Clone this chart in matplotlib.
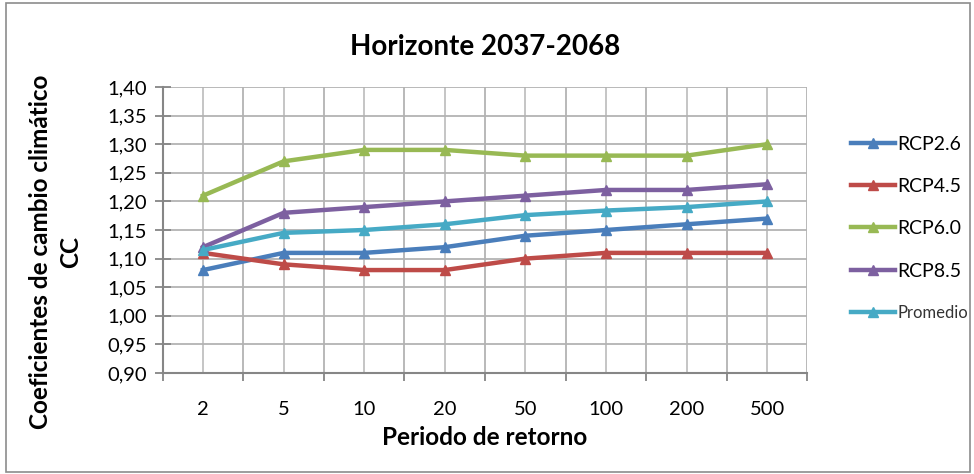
import matplotlib
matplotlib.use("Agg")
import matplotlib.pyplot as plt
from matplotlib.patches import Rectangle
import numpy as np

categories = ["2", "5", "10", "20", "50", "100", "200", "500"]
rcp26 = [1.08, 1.11, 1.11, 1.12, 1.14, 1.15, 1.16, 1.17]
rcp45 = [1.11, 1.09, 1.08, 1.08, 1.10, 1.11, 1.11, 1.11]
rcp60 = [1.21, 1.27, 1.29, 1.29, 1.28, 1.28, 1.28, 1.30]
rcp85 = [1.12, 1.18, 1.19, 1.20, 1.21, 1.22, 1.22, 1.23]
promedio = [1.115, 1.145, 1.15, 1.16, 1.176, 1.184, 1.19, 1.20]
series_names = ["RCP2.6", "RCP4.5", "RCP6.0", "RCP8.5", "Promedio"]
colors = ["#4A7EBB", "#BE4B48", "#98B954", "#7D60A0", "#46AAC5"]

plt.rcParams['font.family'] = ['Lato', 'DejaVu Sans']

fig = plt.figure(figsize=(9.74, 4.74), dpi=100)
fig.patches.append(Rectangle((0.006, 0.004), 0.99, 0.99, transform=fig.transFigure,
                             fill=False, edgecolor="#8c8c8c", linewidth=1.2))
ax = fig.add_axes([0.167, 0.213, 0.662, 0.6035])

x = np.arange(len(categories))
for vals, name, c in zip([rcp26, rcp45, rcp60, rcp85, promedio], series_names, colors):
    ax.plot(x, vals, color=c, linewidth=3.2, marker="^", markersize=7, label=name)

ax.set_xlim(-0.5, len(categories) - 0.5)
ax.set_ylim(0.90, 1.40)
yt = np.round(np.arange(0.90, 1.401, 0.05), 2)
ax.set_yticks(yt)
ax.set_yticklabels([f"{v:.2f}".replace(".", ",") for v in yt], fontsize=14.5)
ax.set_xticks(np.arange(-0.5, len(categories), 1.0))
ax.set_xticklabels([])
ax.set_xticks(x, minor=True)
ax.set_xticklabels(categories, minor=True, fontsize=14.5)
ax.tick_params(axis="x", which="minor", length=0, pad=20)
ax.tick_params(axis="x", which="major", length=6, color="#868686", width=1.3)
ax.tick_params(axis="y", direction="inout", length=11, color="#868686", width=1.3, pad=6)

ax.grid(True, which="major", axis="both", color="#b3b3b3", linewidth=1.3)
ax.grid(True, which="minor", axis="x", color="#c0c0c0", linewidth=1.3)
ax.set_axisbelow(True)
for s in ["top", "right"]:
    ax.spines[s].set_visible(False)
for s in ["left", "bottom"]:
    ax.spines[s].set_color("#868686")
    ax.spines[s].set_linewidth(1.5)

fig.text(0.498, 0.90, "Horizonte 2037-2068", fontsize=20, fontweight="bold",
         ha="center", va="center")
fig.text(0.498, 0.076, "Periodo de retorno", fontsize=17.5, fontweight="bold",
         ha="center", va="center")
fig.text(0.057, 0.468, "Coeficientes de cambio climático\nCC", fontsize=17.5,
         fontweight="bold", rotation=90, ha="center", va="center",
         multialignment="center", linespacing=1.35)

leg = ax.legend(loc="center left", bbox_to_anchor=(1.04, 0.505), frameon=False,
                fontsize=14, handlelength=2.3, handletextpad=0.1, labelspacing=1.3)
leg.get_texts()[-1].set_fontsize(12)
leg.get_texts()[-1].set_color("#333333")

fig.savefig("out.png", dpi=100)
